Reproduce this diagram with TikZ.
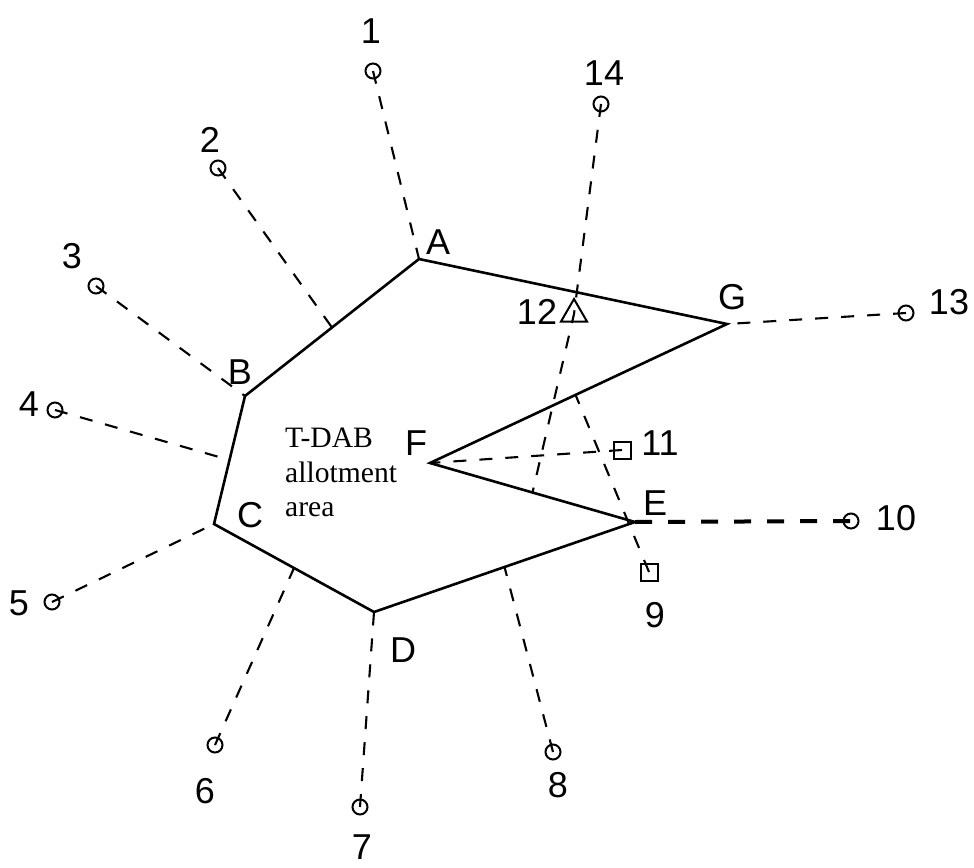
\documentclass[tikz,border=0pt]{standalone}
\usepackage{fontspec}
\setmainfont{Liberation Serif}
\setsansfont{Liberation Sans}
\usetikzlibrary{calc,shapes.geometric}
\tikzset{
  edge/.style={line width=2.6pt,line join=miter},
  link/.style={line width=2.1pt,dash pattern=on 13pt off 13pt},
  wide/.style={line width=4pt,dash pattern=on 17pt off 16pt},
  stn/.style={circle,draw,line width=2pt,minimum size=15pt,inner sep=0pt},
  box/.style={rectangle,draw,line width=2pt,minimum size=17pt,inner sep=0pt},
  tri/.style={regular polygon,regular polygon sides=3,draw,line width=2pt,minimum size=30pt,inner sep=0pt},
  lab/.style={font=\sffamily\fontsize{36}{36}\selectfont,inner sep=0pt},
  area/.style={font=\fontsize{29.6}{34.5}\selectfont,align=left,inner sep=0pt,anchor=north west},
}
\begin{document}
\begin{tikzpicture}[x=1pt,y=-1pt]
\useasboundingbox (0,0) rectangle (974,867);
% allotment boundary
\coordinate (A) at (419,259);
\coordinate (G) at (727,324);
\coordinate (F) at (430,463);
\coordinate (E) at (635,522);
\coordinate (D) at (374,612);
\coordinate (C) at (214,524);
\coordinate (B) at (245,396);
\draw[edge] (A)--(G)--(F)--(E)--(D)--(C)--(B)--cycle;
\foreach \v/\x/\y in {A/438/242,G/732/297,F/416/443,E/655/503,D/403/650,C/250/515,B/240/372}
  \node[lab] (n\v) at (\x,\y) {\v};
\node[area] (txt) at (285,428) {T-DAB\\allotment\\area};
% test points on the boundary
\coordinate (p2) at ($(A)!0.5!(B)$);
\coordinate (p4) at ($(B)!0.5!(C)$);
\coordinate (p6) at ($(C)!0.5!(D)$);
\coordinate (p8) at ($(D)!0.5!(E)$);
\coordinate (p9) at ($(F)!0.49!(G)$);
\coordinate (p14) at ($(F)!0.5!(E)$);
% stations
\foreach \i/\x/\y in {1/373/71,2/218/168,3/96/286,4/55/410,5/52/602,6/215/745,7/360/807,8/553/752,10/851/521,13/906/313,14/601/104}
  \node[stn] (s\i) at (\x,\y) {};
\node[box] (s9) at (649,572) {};
\node[box] (s11) at (622,450) {};
\node[tri] (s12) at (574,314) {};
\foreach \i/\t in {1/A,2/p2,3/B,4/p4,5/C,6/p6,7/D,8/p8,9/p9,11/F,13/G}
  \draw[link] (s\i.center) -- (\t);
\draw[link] (s14.center) -- (s12.center) -- (p14);
\draw[wide] (E) -- (s10.center);
\foreach \i/\x/\y in {1/371/31,2/210/140,3/72/256,4/29/404,5/19/603,6/205/791,7/362/847,8/558/785,9/655/615,10/896/518,11/660/443,12/537/312,13/949/302,14/604/73}
  \node[lab] (l\i) at (\x,\y) {\i};
\end{tikzpicture}
\end{document}
